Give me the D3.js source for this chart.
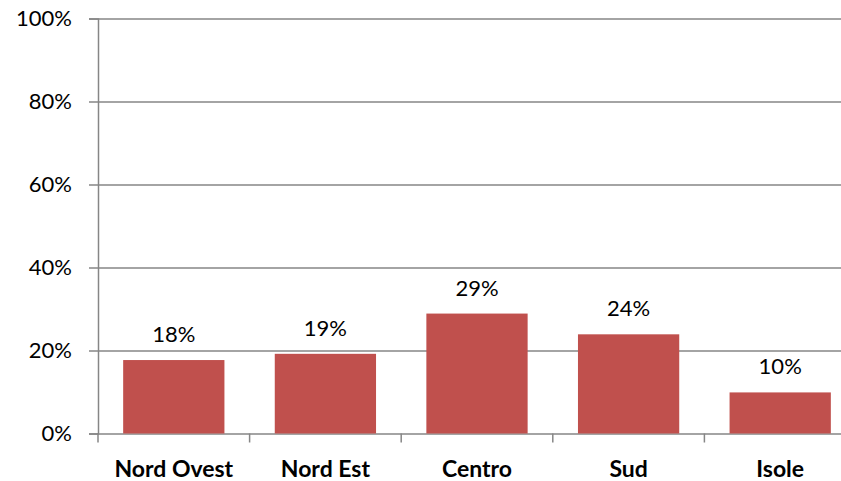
<!DOCTYPE html>
<html>
<head>
<meta charset="utf-8">
<script src="https://cdn.jsdelivr.net/npm/d3@7"></script>
<style>
  html, body { margin: 0; padding: 0; background: #fff; }
  #chart { width: 841px; height: 481px; overflow: hidden; }
  text { font-family: Lato, "Open Sans", sans-serif; }
</style>
</head>
<body>
<div id="chart"></div>
<script>
const categories = ["Nord Ovest", "Nord Est", "Centro", "Sud", "Isole"];
const values = [0.177, 0.192, 0.289, 0.239, 0.099];
const yTicks = [0, 0.2, 0.4, 0.6, 0.8, 1.0];

const margin = {top: 18.5, left: 98};
const plotW = 758; // runs a bit past the window edge, like the original
const plotH = 415;

const svg = d3.select("#chart")
    .append("svg")
    .attr("width", 841)
    .attr("height", 481);

const g = svg.append("g")
    .attr("transform", `translate(${margin.left},${margin.top})`);

const x = d3.scaleBand()
    .domain(categories)
    .range([0, plotW])
    .paddingInner(0.332)
    .paddingOuter(0.166);

const y = d3.scaleLinear()
    .domain([0, 1])
    .range([plotH, 0]);

const axisColor = "#868686";

// gridlines
g.selectAll(".grid")
    .data(yTicks)
    .enter().append("line")
    .attr("class", "grid")
    .attr("x1", 0)
    .attr("x2", plotW)
    .attr("y1", d => Math.round(y(d)) + 0.5)
    .attr("y2", d => Math.round(y(d)) + 0.5)
    .attr("stroke", axisColor)
    .attr("stroke-width", 1.5);

// bars
g.selectAll(".bar")
    .data(values)
    .enter().append("rect")
    .attr("class", "bar")
    .attr("x", (d, i) => x(categories[i]))
    .attr("width", x.bandwidth())
    .attr("y", d => y(d))
    .attr("height", d => plotH - y(d))
    .attr("fill", "#c0504d");

// y axis
const yAxis = g.append("g")
    .attr("class", "axis")
    .call(d3.axisLeft(y).tickValues(yTicks).tickFormat(d3.format(".0%")).tickSize(9).tickPadding(17));

// x axis (ticks between categories)
const xAxis = g.append("g")
    .attr("class", "axis")
    .attr("transform", `translate(0,${plotH})`)
    .call(d3.axisBottom(x).tickSize(0).tickPadding(27));

const step = x.step();
g.selectAll(".xtick")
    .data(d3.range(categories.length + 1))
    .enter().append("line")
    .attr("class", "xtick")
    .attr("x1", i => i * step)
    .attr("x2", i => i * step)
    .attr("y1", plotH)
    .attr("y2", plotH + 9)
    .attr("stroke", axisColor)
    .attr("stroke-width", 1.5);

svg.selectAll(".axis path, .axis line")
    .attr("stroke", axisColor)
    .attr("stroke-width", 1.5);
xAxis.select(".domain").remove();

yAxis.selectAll("text")
    .style("font-size", "22px")
    .style("font-family", "Lato, sans-serif")
    .style("fill", "#000");

xAxis.selectAll("text")
    .style("font-size", "23px")
    .style("font-weight", "bold")
    .style("font-family", "Lato, sans-serif")
    .style("fill", "#000");

// value labels
g.selectAll(".label")
    .data(values)
    .enter().append("text")
    .attr("class", "label")
    .attr("x", (d, i) => x(categories[i]) + x.bandwidth() / 2)
    .attr("y", d => y(d) - 18)
    .attr("text-anchor", "middle")
    .style("font-size", "22px")
    .style("fill", "#000")
    .text(d => Math.round(d * 100) + "%");
</script>
</body>
</html>
